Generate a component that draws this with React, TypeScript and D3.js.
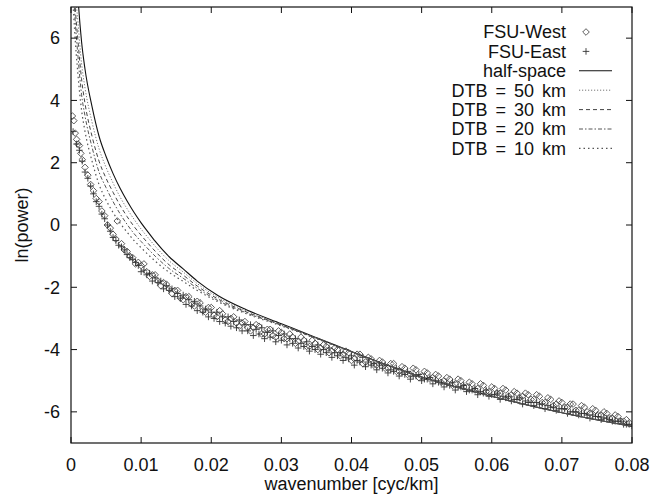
import React from "react";
import * as d3 from "d3";

// ---------------- data ----------------
const xTicks = [0, 0.01, 0.02, 0.03, 0.04, 0.05, 0.06, 0.07, 0.08];
const xTickLabels = ["0", "0.01", "0.02", "0.03", "0.04", "0.05", "0.06", "0.07", "0.08"];
const yTicks = [-6, -4, -2, 0, 2, 4, 6];
const yTickLabels = ["-6", "-4", "-2", "0", "2", "4", "6"];

const westK = [
  0.0002, 0.0004, 0.0006, 0.0008, 0.001, 0.0012, 0.0014, 0.0016, 0.002, 0.0028, 0.0036, 0.0044,
  0.0052, 0.006, 0.0066, 0.0076, 0.0084, 0.0092, 0.01, 0.0108, 0.0116, 0.0124, 0.0132, 0.014,
  0.0148, 0.0156, 0.0164, 0.0172, 0.018, 0.0188, 0.0196, 0.0204, 0.0212, 0.022, 0.0228, 0.0236,
  0.0244, 0.0252, 0.026, 0.0268, 0.0276, 0.0284, 0.0292, 0.03, 0.0308, 0.0316, 0.0324, 0.0332,
  0.034, 0.0348, 0.0356, 0.0364, 0.0372, 0.038, 0.0388, 0.0396, 0.0404, 0.0412, 0.042, 0.0428,
  0.0436, 0.0444, 0.0452, 0.046, 0.0468, 0.0476, 0.0484, 0.0492, 0.05, 0.0508, 0.0516, 0.0524,
  0.0532, 0.054, 0.0548, 0.0556, 0.0564, 0.0572, 0.058, 0.0588, 0.0596, 0.0604, 0.0612, 0.062,
  0.0628, 0.0636, 0.0644, 0.0652, 0.066, 0.0668, 0.0676, 0.0684, 0.0692, 0.07, 0.0708, 0.0716,
  0.0724, 0.0732, 0.074, 0.0748, 0.0756, 0.0764, 0.0772, 0.078, 0.0788, 0.0796,
];
const westY = [
  3.5, 3.35, 2.95, 2.75, 2.6, 2.55, 2.3, 2.1, 1.85, 1.3, 0.85, 0.45,
  0.0, -0.3, 0.13, -0.8, -1.0, -1.25, -1.3, -1.5, -1.6, -1.8, -1.85, -2.05,
  -2.1, -2.35, -2.3, -2.55, -2.45, -2.75, -2.65, -2.9, -2.75, -3.05, -3.0, -3.15,
  -3.15, -3.3, -3.3, -3.25, -3.5, -3.35, -3.6, -3.45, -3.65, -3.6, -3.75, -3.7,
  -3.9, -3.8, -3.95, -3.9, -4.05, -4.0, -4.15, -4.1, -4.3, -4.15, -4.4, -4.3,
  -4.5, -4.4, -4.6, -4.45, -4.7, -4.6, -4.8, -4.65, -4.85, -4.75, -4.9, -4.85,
  -5.0, -4.95, -5.1, -5.0, -5.2, -5.1, -5.25, -5.15, -5.35, -5.25, -5.4, -5.3,
  -5.45, -5.4, -5.5, -5.45, -5.6, -5.5, -5.7, -5.6, -5.75, -5.7, -5.85, -5.75,
  -5.95, -5.85, -6.05, -5.95, -6.1, -6.05, -6.2, -6.15, -6.3, -6.35,
];
// second set of FSU-West estimates (between the first ones)
const westK2 = [
  0.0024, 0.0032, 0.004, 0.0048, 0.0056, 0.0064, 0.0072, 0.008, 0.0088, 0.0096,
  0.0104, 0.0112, 0.012, 0.0128, 0.0136, 0.0144, 0.0152, 0.016, 0.0168, 0.0176, 0.0184, 0.0192,
  0.02, 0.0208, 0.0216, 0.0224, 0.0232, 0.024, 0.0248, 0.0256, 0.0264, 0.0272, 0.028, 0.0288,
  0.0296, 0.0304, 0.0312, 0.032, 0.0328, 0.0336, 0.0344, 0.0352, 0.036, 0.0368, 0.0376, 0.0384,
  0.0392, 0.04, 0.0408, 0.0416, 0.0424, 0.0432, 0.044, 0.0448, 0.0456, 0.0464, 0.0472, 0.048,
  0.0488, 0.0496, 0.0504, 0.0512, 0.052, 0.0528, 0.0536, 0.0544, 0.0552, 0.056, 0.0568, 0.0576,
  0.0584, 0.0592, 0.06, 0.0608, 0.0616, 0.0624, 0.0632, 0.064, 0.0648, 0.0656, 0.0664, 0.0672,
  0.068, 0.0688, 0.0696, 0.0704, 0.0712, 0.072, 0.0728, 0.0736, 0.0744, 0.0752, 0.076, 0.0768,
  0.0776, 0.0784, 0.0792,
];
const westY2 = [
  1.6, 1.1, 0.75, 0.3, -0.1, -0.45, -0.6, -0.85, -1.05, -1.2,
  -1.25, -1.65, -1.6, -1.95, -1.9, -2.2, -2.1, -2.4, -2.3, -2.6, -2.5, -2.8,
  -2.65, -2.95, -2.85, -3.1, -2.95, -3.25, -3.1, -3.4, -3.2, -3.5, -3.35, -3.55,
  -3.4, -3.65, -3.5, -3.8, -3.6, -3.9, -3.7, -4.0, -3.85, -4.1, -3.95, -4.2,
  -4.05, -4.35, -4.15, -4.45, -4.25, -4.5, -4.35, -4.6, -4.45, -4.7, -4.55, -4.8,
  -4.6, -4.9, -4.7, -4.95, -4.8, -5.05, -4.9, -5.15, -4.95, -5.2, -5.05, -5.3,
  -5.1, -5.35, -5.2, -5.4, -5.25, -5.5, -5.35, -5.55, -5.4, -5.6, -5.45, -5.7,
  -5.55, -5.8, -5.65, -5.85, -5.75, -5.95, -5.8, -6.0, -5.9, -6.1, -6.0, -6.2,
  -6.1, -6.3, -6.25,
];

const eastK = [
  0.0003, 0.0008, 0.0016, 0.0024, 0.0032, 0.004, 0.0048, 0.0056, 0.0064, 0.0072, 0.008, 0.0088,
  0.0096, 0.0104, 0.0112, 0.012, 0.0128, 0.0136, 0.0144, 0.0152, 0.016, 0.0168, 0.0176, 0.0184,
  0.0192, 0.02, 0.0208, 0.0216, 0.0224, 0.0232, 0.024, 0.0248, 0.0256, 0.0264, 0.0272, 0.028,
  0.0288, 0.0296, 0.0304, 0.0312, 0.032, 0.0328, 0.0336, 0.0344, 0.0352, 0.036, 0.0368, 0.0376,
  0.0384, 0.0392, 0.04, 0.0408, 0.0416, 0.0424, 0.0432, 0.044, 0.0448, 0.0456, 0.0464, 0.0472,
  0.048, 0.0488, 0.0496, 0.0504, 0.0512, 0.052, 0.0528, 0.0536, 0.0544, 0.0552, 0.056, 0.0568,
  0.0576, 0.0584, 0.0592, 0.06, 0.0608, 0.0616, 0.0624, 0.0632, 0.064, 0.0648, 0.0656, 0.0664,
  0.0672, 0.068, 0.0688, 0.0696, 0.0704, 0.0712, 0.072, 0.0728, 0.0736, 0.0744, 0.0752, 0.076,
  0.0768, 0.0776, 0.0784, 0.0792, 0.08,
];
const eastY = [
  3.0, 2.6, 2.05, 1.5, 1.0, 0.6, 0.2, -0.2, -0.5, -0.7, -0.95, -1.1,
  -1.3, -1.45, -1.55, -1.7, -1.8, -1.95, -2.05, -2.2, -2.25, -2.4, -2.45, -2.6,
  -2.7, -2.8, -2.8, -2.95, -2.95, -3.1, -3.05, -3.2, -3.2, -3.35, -3.3, -3.45,
  -3.4, -3.55, -3.5, -3.65, -3.65, -3.8, -3.75, -3.9, -3.85, -4.0, -3.95, -4.1,
  -4.1, -4.25, -4.2, -4.35, -4.25, -4.4, -4.45, -4.5, -4.5, -4.65, -4.6, -4.75,
  -4.7, -4.85, -4.8, -4.95, -4.9, -5.0, -5.05, -5.1, -5.05, -5.2, -5.15, -5.3,
  -5.25, -5.35, -5.3, -5.45, -5.4, -5.5, -5.5, -5.6, -5.55, -5.65, -5.7, -5.7,
  -5.75, -5.8, -5.85, -5.9, -5.9, -6.0, -6.0, -6.05, -6.1, -6.1, -6.15, -6.2,
  -6.25, -6.3, -6.3, -6.4, -6.45,
];
// second set of FSU-East estimates
const eastK2 = [
  0.0012, 0.002, 0.0028, 0.0036, 0.0044, 0.0052, 0.006, 0.0068, 0.0076, 0.0084, 0.0092,
  0.01, 0.0108, 0.0116, 0.0124, 0.0132, 0.014, 0.0148, 0.0156, 0.0164, 0.0172, 0.018, 0.0188,
  0.0196, 0.0204, 0.0212, 0.022, 0.0228, 0.0236, 0.0244, 0.0252, 0.026, 0.0268, 0.0276, 0.0284,
  0.0292, 0.03, 0.0308, 0.0316, 0.0324, 0.0332, 0.034, 0.0348, 0.0356, 0.0364, 0.0372, 0.038,
  0.0388, 0.0396, 0.0404, 0.0412, 0.042, 0.0428, 0.0436, 0.0444, 0.0452, 0.046, 0.0468, 0.0476,
  0.0484, 0.0492, 0.05, 0.0508, 0.0516, 0.0524, 0.0532, 0.054, 0.0548, 0.0556, 0.0564, 0.0572,
  0.058, 0.0588, 0.0596, 0.0604, 0.0612, 0.062, 0.0628, 0.0636, 0.0644, 0.0652, 0.066, 0.0668,
  0.0676, 0.0684, 0.0692, 0.07, 0.0708, 0.0716, 0.0724, 0.0732, 0.074, 0.0748, 0.0756, 0.0764,
  0.0772, 0.078, 0.0788, 0.0796,
];
const eastY2 = [
  2.4, 1.7, 1.25, 0.75, 0.35, 0.0, -0.4, -0.65, -0.8, -1.05, -1.2,
  -1.5, -1.6, -1.8, -1.85, -2.05, -2.1, -2.3, -2.35, -2.55, -2.6, -2.75, -2.8,
  -2.95, -3.0, -3.1, -3.15, -3.25, -3.3, -3.4, -3.4, -3.55, -3.5, -3.65, -3.6,
  -3.75, -3.7, -3.85, -3.8, -3.95, -3.9, -4.05, -4.0, -4.15, -4.1, -4.25, -4.2,
  -4.35, -4.3, -4.5, -4.4, -4.55, -4.5, -4.65, -4.6, -4.75, -4.7, -4.85, -4.8,
  -4.95, -4.85, -5.0, -4.95, -5.1, -5.05, -5.2, -5.15, -5.3, -5.2, -5.35, -5.3,
  -5.45, -5.4, -5.5, -5.45, -5.6, -5.55, -5.65, -5.6, -5.75, -5.7, -5.8, -5.75,
  -5.9, -5.85, -5.95, -5.9, -6.05, -6.0, -6.1, -6.05, -6.2, -6.15, -6.25, -6.2,
  -6.3, -6.3, -6.4, -6.4,
];

const modelK = [
  0.0002, 0.0005, 0.001, 0.0015, 0.002, 0.003, 0.004, 0.005, 0.006, 0.007, 0.008, 0.009, 0.01,
  0.011, 0.012, 0.014, 0.016, 0.018, 0.021, 0.025, 0.03, 0.035, 0.04, 0.05, 0.06, 0.07, 0.08,
];
const halfSpace = [12, 9.5, 7.3, 5.9, 5.0, 3.8, 2.85, 2.2, 1.65, 1.18, 0.77, 0.4, 0.07, -0.23, -0.52, -1.02, -1.41, -1.8, -2.27, -2.72, -3.17, -3.62, -4.06, -4.88, -5.5, -6.03, -6.47];
const dtb50 = [10, 8.0, 6.5, 5.2, 4.4, 3.3, 2.45, 1.85, 1.35, 0.9, 0.52, 0.18, -0.13, -0.41, -0.68, -1.15, -1.51, -1.88, -2.33, -2.76, -3.19, -3.63, -4.06, -4.88, -5.5, -6.03, -6.47];
const dtb30 = [9, 7.4, 5.9, 4.7, 3.9, 2.85, 2.05, 1.5, 1.05, 0.63, 0.27, -0.05, -0.33, -0.59, -0.84, -1.28, -1.61, -1.96, -2.38, -2.79, -3.21, -3.64, -4.07, -4.88, -5.5, -6.03, -6.47];
const dtb20 = [8.2, 6.9, 5.4, 4.2, 3.5, 2.5, 1.7, 1.2, 0.75, 0.36, 0.02, -0.28, -0.53, -0.77, -1.0, -1.4, -1.71, -2.03, -2.43, -2.82, -3.22, -3.64, -4.07, -4.88, -5.5, -6.03, -6.47];
const dtb10 = [7.5, 6.3, 4.8, 3.7, 3.0, 2.05, 1.3, 0.8, 0.4, 0.06, -0.23, -0.5, -0.73, -0.95, -1.16, -1.52, -1.81, -2.1, -2.47, -2.85, -3.24, -3.65, -4.08, -4.89, -5.5, -6.03, -6.47];

const legendLabels = ["FSU-West", "FSU-East", "half-space", "DTB = 50 km", "DTB = 30 km", "DTB = 20 km", "DTB = 10 km"];

// ---------------- styles ----------------
const FONT = "'Liberation Sans', Arial, Helvetica, sans-serif";
const FS = 18;
const lineStyles = [
  { name: "half", data: halfSpace, dash: "none", color: "#111", width: 1.1 },
  { name: "50", data: dtb50, dash: "1.2,1.8", color: "#777", width: 1 },
  { name: "30", data: dtb30, dash: "4,3", color: "#444", width: 1 },
  { name: "20", data: dtb20, dash: "4,2,1.5,2", color: "#555", width: 1 },
  { name: "10", data: dtb10, dash: "1.5,3", color: "#555", width: 1.2 },
];

export default function App() {
  const L = 71, R = 632, T = 7, B = 443;
  const x = d3.scaleLinear().domain([0, 0.08]).range([L, R]);
  const y = d3.scaleLinear().domain([-7, 7]).range([B, T]);
  const tick = 6;
  const s = 3.3;

  const line = d3
    .line<number>()
    .x((_, i) => x(modelK[i]))
    .y((d) => y(d))
    .curve(d3.curveMonotoneX);

  const diamond = (cx: number, cy: number) =>
    `M${cx},${cy - s}L${cx + s},${cy}L${cx},${cy + s}L${cx - s},${cy}Z`;
  const plus = (cx: number, cy: number) =>
    `M${cx - s},${cy}H${cx + s}M${cx},${cy - s}V${cy + s}`;

  const west = westK.map((k, i) => [k, westY[i]]).concat(westK2.map((k, i) => [k, westY2[i]]));
  const east = eastK.map((k, i) => [k, eastY[i]]).concat(eastK2.map((k, i) => [k, eastY2[i]]));

  const legX = 566;
  const legY0 = 32;
  const legStep = 19.4;
  const sampleX0 = 579, sampleX1 = 612, symX = 586;

  return (
    <svg
      width={665}
      height={495}
      style={{ position: "absolute", left: 0, top: 0, background: "#fff" }}
      fontFamily={FONT}
    >
      <defs>
        <clipPath id="plotclip">
          <rect x={L} y={T} width={R - L} height={B - T} />
        </clipPath>
      </defs>
      <rect x={0} y={0} width={665} height={495} fill="#fff" />

      {/* data points */}
      <g clipPath="url(#plotclip)" fill="none" strokeWidth={0.9}>
        {west.map((p, i) => (
          <path key={"w" + i} d={diamond(x(p[0]), y(p[1]))} stroke="#4a4a4a" />
        ))}
        {east.map((p, i) => (
          <path key={"e" + i} d={plus(x(p[0]), y(p[1]))} stroke="#333" />
        ))}
      </g>

      {/* model lines */}
      <g clipPath="url(#plotclip)" fill="none">
        {lineStyles.map((ls) => (
          <path
            key={ls.name}
            d={line(ls.data) || ""}
            stroke={ls.color}
            strokeWidth={ls.width}
            strokeDasharray={ls.dash === "none" ? undefined : ls.dash}
          />
        ))}
      </g>

      {/* frame */}
      <rect x={L} y={T} width={R - L} height={B - T} fill="none" stroke="#111" strokeWidth={1.2} />

      {/* ticks */}
      <g stroke="#111" strokeWidth={1}>
        {xTicks.map((t) => (
          <g key={"xt" + t}>
            <line x1={x(t)} x2={x(t)} y1={B} y2={B - tick} />
            <line x1={x(t)} x2={x(t)} y1={T} y2={T + tick} />
          </g>
        ))}
        {yTicks.map((t) => (
          <g key={"yt" + t}>
            <line x1={L} x2={L + tick} y1={y(t)} y2={y(t)} />
            <line x1={R} x2={R - tick} y1={y(t)} y2={y(t)} />
          </g>
        ))}
      </g>

      {/* tick labels */}
      <g fontSize={FS} fill="#111">
        {xTicks.map((t, i) => (
          <text key={"xl" + t} x={x(t)} y={B + 28} textAnchor="middle">
            {xTickLabels[i]}
          </text>
        ))}
        {yTicks.map((t, i) => (
          <text key={"yl" + t} x={L - 11} y={y(t)} dy="0.35em" textAnchor="end">
            {yTickLabels[i]}
          </text>
        ))}
      </g>

      {/* axis titles */}
      <text x={(L + R) / 2} y={490} textAnchor="middle" fontSize={FS} fill="#111">
        wavenumber [cyc/km]
      </text>
      <text
        transform={`translate(28,${(T + B) / 2}) rotate(-90)`}
        textAnchor="middle"
        fontSize={FS}
        fill="#111"
      >
        ln(power)
      </text>

      {/* legend */}
      <g fontSize={FS} fill="#111">
        {legendLabels.map((lab, i) => {
          const ly = legY0 + i * legStep;
          let sample: React.ReactNode = null;
          if (i === 0) {
            sample = <path d={diamond(symX, ly)} fill="none" stroke="#4a4a4a" strokeWidth={0.9} />;
          } else if (i === 1) {
            sample = <path d={plus(symX, ly)} fill="none" stroke="#333" strokeWidth={0.9} />;
          } else {
            const ls = lineStyles[i - 2];
            sample = (
              <line
                x1={sampleX0}
                x2={sampleX1}
                y1={ly}
                y2={ly}
                stroke={ls.color}
                strokeWidth={ls.width}
                strokeDasharray={ls.dash === "none" ? undefined : ls.dash}
              />
            );
          }
          return (
            <g key={"lg" + i}>
              <text x={legX} y={ly} dy="0.35em" textAnchor="end" wordSpacing={i >= 3 ? 3 : 0}>
                {lab}
              </text>
              {sample}
            </g>
          );
        })}
      </g>
    </svg>
  );
}
